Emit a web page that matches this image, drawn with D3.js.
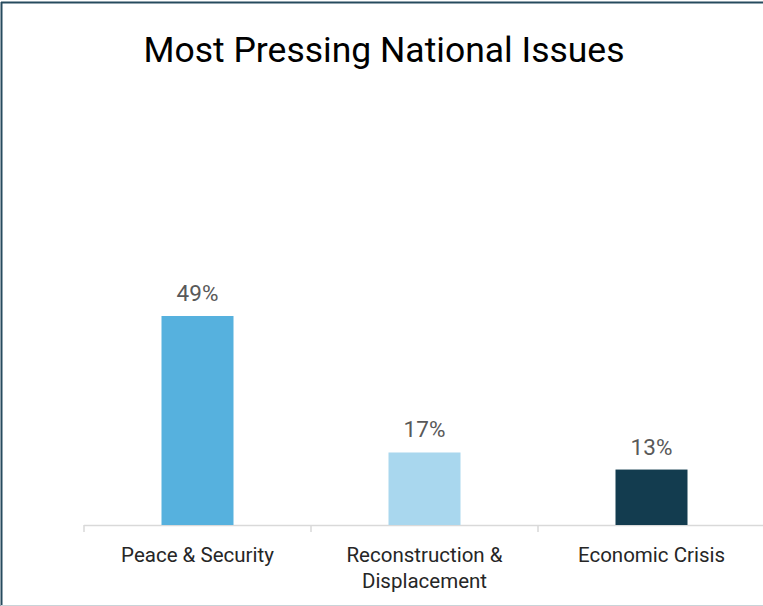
<!DOCTYPE html>
<html><head><meta charset="utf-8">
<script src="https://cdn.jsdelivr.net/npm/d3@7"></script>
<style>html,body{margin:0;padding:0;background:#fff;}svg{display:block;}</style>
</head><body>
<svg id="chart" width="763" height="606"></svg>
<script>
const categories = [["Peace & Security"], ["Reconstruction &", "Displacement"], ["Economic Crisis"]];
const values = [49, 17, 13];
const colors = ["#56B1DE", "#A9D7EE", "#133C4F"];
const title = "Most Pressing National Issues";

const svg = d3.select("#chart");
const W = 763, H = 606;
const font = "Roboto, 'Noto Sans', sans-serif";

// frame
svg.append("line").attr("x1", 1.5).attr("x2", 1.5).attr("y1", 2).attr("y2", 606).attr("stroke", "#264B5E").attr("stroke-width", 2);
svg.append("line").attr("x1", 1).attr("x2", W).attr("y1", 2.5).attr("y2", 2.5).attr("stroke", "#264B5E").attr("stroke-width", 2);
svg.append("line").attr("x1", 1).attr("x2", W).attr("y1", 605.5).attr("y2", 605.5).attr("stroke", "#C9D3D8").attr("stroke-width", 1);

svg.append("text").attr("x", 384).attr("y", 62).attr("text-anchor", "middle")
  .attr("font-family", font).attr("font-size", 35.5).attr("fill", "#000")
  .text(title);

const x = d3.scaleBand().domain(d3.range(categories.length)).range([84, 765]).paddingInner(0).paddingOuter(0);
const y = d3.scaleLinear().domain([0, 49]).range([525, 316]);
const bw = 72;

const axis = svg.append("g");
axis.append("line").attr("x1", 84).attr("x2", 765).attr("y1", 525.5).attr("y2", 525.5).attr("stroke", "#D9D9D9").attr("stroke-width", 1.5);
[0,1,2,3].forEach(i => {
  const xx = 84 + i * x.bandwidth();
  axis.append("line").attr("x1", xx).attr("x2", xx).attr("y1", 525).attr("y2", 532).attr("stroke", "#D9D9D9").attr("stroke-width", 1.5);
});

svg.selectAll("rect.bar").data(values).join("rect").attr("class", "bar")
  .attr("x", (d, i) => x(i) + x.bandwidth() / 2 - bw / 2)
  .attr("width", bw)
  .attr("y", d => y(d))
  .attr("height", d => y(0) - y(d))
  .attr("fill", (d, i) => colors[i]);

svg.selectAll("text.val").data(values).join("text").attr("class", "val")
  .attr("x", (d, i) => x(i) + x.bandwidth() / 2)
  .attr("y", d => y(d) - 15)
  .attr("text-anchor", "middle").attr("font-family", font).attr("font-size", 22.5).attr("fill", "#595959")
  .text(d => d + "%");

categories.forEach((lines, i) => {
  const t = svg.append("text").attr("text-anchor", "middle").attr("font-family", font)
    .attr("font-size", 20.5).attr("fill", "#262626");
  lines.forEach((ln, j) => {
    t.append("tspan").attr("x", x(i) + x.bandwidth() / 2).attr("y", 562 + j * 26).text(ln);
  });
});
</script>
</body></html>
